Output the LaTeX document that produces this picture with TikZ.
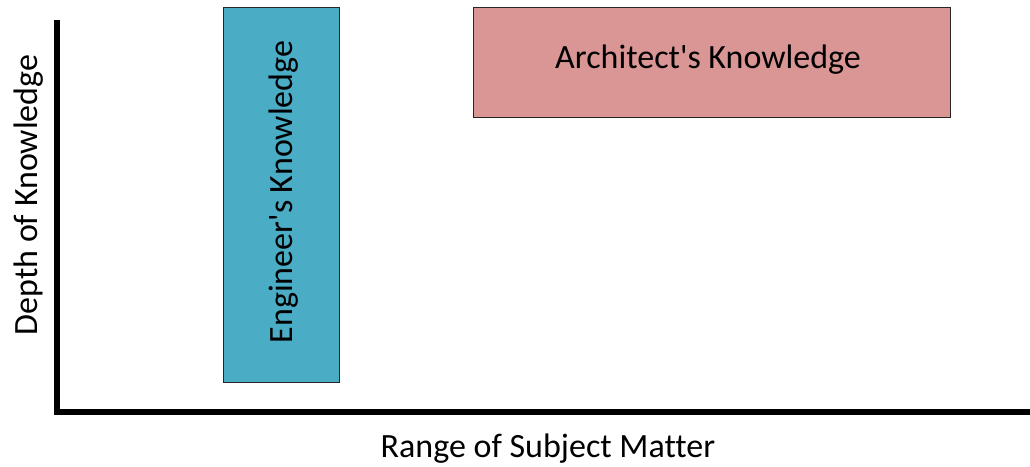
\documentclass[tikz,border=0pt]{standalone}
\usepackage{fontspec}
\setmainfont{Carlito}[Ligatures=NoCommon]
\usepackage{tikz}

\definecolor{engblue}{HTML}{4BACC6}
\definecolor{archred}{HTML}{D99694}

\begin{document}
\begin{tikzpicture}[x=1pt,y=-1pt,font=\fontsize{34}{40}\selectfont,
  knowbox/.style={draw=black!85,line width=1.2pt,inner sep=0pt,anchor=north west},
  axis/.style={line width=5.5pt}]
%\draw[help lines] (0,0) grid (1030,466);
\useasboundingbox (0,0) rectangle (1030,466);
\coordinate (top) at (57,20);
\coordinate (o) at (57,412);
\coordinate (right) at (1030,412);
\node (eng) [knowbox,fill=engblue,minimum width=116pt,minimum height=375pt] at (223,7) {};
\node (arch) [knowbox,fill=archred,minimum width=477pt,minimum height=110pt] at (473,7) {};
\node (engtxt) [rotate=90] at (284,192) {Engineer\textquotesingle s Knowledge};
\node (archtxt) [] at (708,60) {Architect\textquotesingle s Knowledge};
\node (ylab) [rotate=90] at (29,195) {Depth of Knowledge};
\node (xlab) [inner sep=0pt] at (548,449) {Range of Subject Matter};
\draw[axis] (top) -- (o.center) -- (right);
\end{tikzpicture}
\end{document}
